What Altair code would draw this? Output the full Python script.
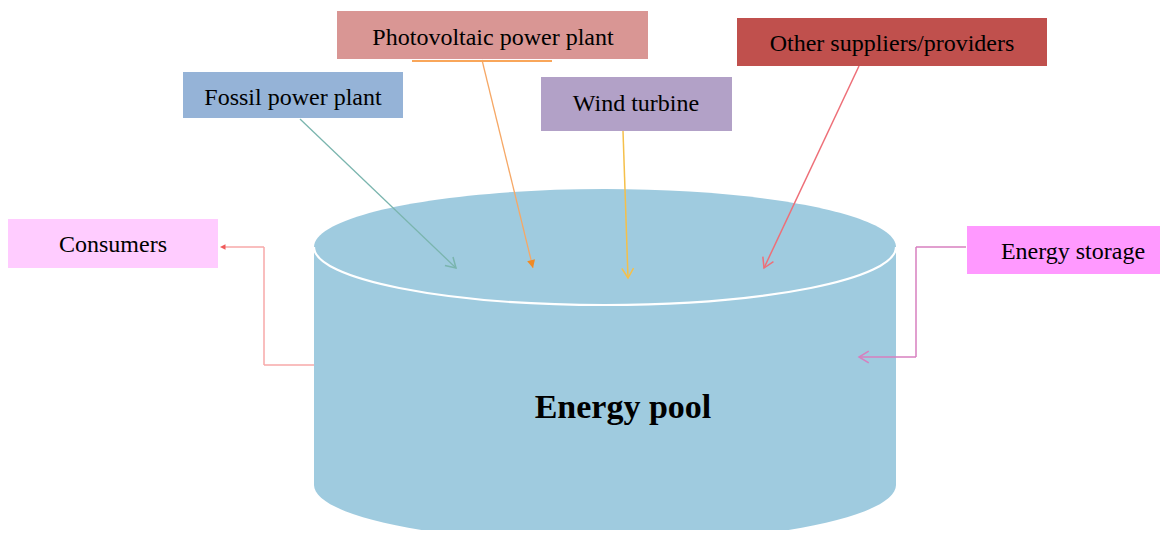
import math
import altair as alt
import pandas as pd

# ---- boxes (labels + geometry in reference pixel coordinates) ----
box_labels = ["Photovoltaic power plant", "Fossil power plant", "Wind turbine",
              "Other suppliers/providers", "Consumers", "Energy storage"]
box_x0 = [337, 183, 541, 737, 8, 967]
box_x1 = [648, 403, 732, 1047, 218, 1168]
box_y0 = [11, 72, 77, 18, 219, 226]
box_y1 = [59, 118, 131, 66, 268, 274]
box_fill = ["#d99694", "#95b3d7", "#b2a1c7", "#c0504d", "#ffccff", "#ff99ff"]
text_x = [493, 293, 636, 892, 113, 1073]
text_y = [38, 98, 104, 44, 245, 252]

# ---- connector segments ----
seg_x0 = [300, 482, 412, 623, 859, 314, 264, 264, 966, 916, 916]
seg_y0 = [119, 60, 61, 131, 66, 365, 365, 247, 247, 247, 357]
seg_x1 = [456, 533, 552, 628, 764, 264, 264, 222, 916, 916, 859]
seg_y1 = [268, 268, 61, 278, 268, 365, 247, 247, 247, 357, 357]
seg_color = ["#7ab5ae", "#f6a866", "#f9a65a", "#f5c04a", "#ee6f78",
             "#f7a8a8", "#f7a8a8", "#f7a8a8", "#d77fbf", "#d77fbf", "#d77fbf"]
seg_width = [1.3, 1.3, 2.0, 1.5, 1.5, 1.5, 1.5, 1.5, 1.5, 1.5, 1.5]

# ---- arrowheads (tip, direction from segment) ----
open_tip_x = [456, 628, 764, 859]
open_tip_y = [268, 278, 268, 357]
open_from_x = [300, 623, 859, 916]
open_from_y = [119, 131, 66, 357]
open_color = ["#7ab5ae", "#f5c04a", "#ee6f78", "#d77fbf"]

filled_tip_x = [533, 220]
filled_tip_y = [268, 247]
filled_from_x = [482, 264]
filled_from_y = [60, 247]
filled_color = ["#f08a24", "#f05a5a"]
filled_size = [260, 120]

# ---- cylinder ----
cyl_cx = [605]
cyl_top_y = [247]
cyl_bot_y = [485]
cyl_rx = [291]
cyl_ry = [58]
cyl_color = "#9fcbdf"
pool_label = ["Energy pool"]
pool_x = [623]
pool_y = [408]


def heading(fx, fy, tx, ty):
    return math.degrees(math.atan2(tx - fx, -(ty - fy))) % 360


boxes = pd.DataFrame({"label": box_labels, "x0": box_x0, "x1": box_x1,
                      "y0": box_y0, "y1": box_y1, "fill": box_fill,
                      "tx": text_x, "ty": text_y})
segs = pd.DataFrame({"x0": seg_x0, "y0": seg_y0, "x1": seg_x1, "y1": seg_y1,
                     "color": seg_color, "w": seg_width})
open_heads = pd.DataFrame({"x": open_tip_x, "y": open_tip_y, "color": open_color,
                           "angle": [heading(a, b, c, d) for a, b, c, d in
                                     zip(open_from_x, open_from_y, open_tip_x, open_tip_y)]})
filled_heads = pd.DataFrame({"x": filled_tip_x, "y": filled_tip_y, "color": filled_color,
                             "size": filled_size,
                             "angle": [heading(a, b, c, d) for a, b, c, d in
                                       zip(filled_from_x, filled_from_y, filled_tip_x, filled_tip_y)]})

ratio = cyl_ry[0] / cyl_rx[0]
ell_size = (2 * cyl_rx[0]) ** 2
full_ellipse = f"M-1,0 A1,{ratio:.4f} 0 1,0 1,0 A1,{ratio:.4f} 0 1,0 -1,0 Z"
front_arc = f"M-1,0 A1,{ratio:.4f} 0 0,0 1,0"

cyl_top = pd.DataFrame({"x": cyl_cx, "y": cyl_top_y})
cyl_bot = pd.DataFrame({"x": cyl_cx, "y": cyl_bot_y})
cyl_body = pd.DataFrame({"x0": [cyl_cx[0] - cyl_rx[0]], "x1": [cyl_cx[0] + cyl_rx[0]],
                         "y0": cyl_top_y, "y1": cyl_bot_y})
pool = pd.DataFrame({"label": pool_label, "x": pool_x, "y": pool_y})

xs = alt.Scale(domain=[8, 1160], nice=False, zero=False)
ys = alt.Scale(domain=[8, 530], nice=False, zero=False, reverse=True)


def X(f):
    return alt.X(f, type="quantitative", scale=xs, axis=None)


def Y(f):
    return alt.Y(f, type="quantitative", scale=ys, axis=None)


bottom = alt.Chart(cyl_bot).mark_point(shape=full_ellipse, filled=True, size=ell_size,
                                       color=cyl_color, opacity=1, strokeWidth=0).encode(
    x=X("x"), y=Y("y"))
body = alt.Chart(cyl_body).mark_rect(color=cyl_color).encode(
    x=X("x0"), x2="x1", y=Y("y0"), y2="y1")
top = alt.Chart(cyl_top).mark_point(shape=full_ellipse, filled=True, size=ell_size,
                                    color=cyl_color, opacity=1, strokeWidth=0).encode(
    x=X("x"), y=Y("y"))
rim = alt.Chart(cyl_top).mark_point(shape=front_arc, filled=False, size=ell_size,
                                    color="white", opacity=1, strokeWidth=2.2).encode(
    x=X("x"), y=Y("y"))
pool_text = alt.Chart(pool).mark_text(font="Liberation Serif", fontWeight="bold",
                                      fontSize=34, color="black", baseline="middle",
                                      align="center").encode(
    x=X("x"), y=Y("y"), text="label:N")

lines = alt.Chart(segs).mark_rule().encode(
    x=X("x0"), y=Y("y0"), x2="x1", y2="y1",
    color=alt.Color("color:N", scale=None),
    strokeWidth=alt.StrokeWidth("w:Q", scale=None))

heads_open = alt.Chart(open_heads).mark_point(shape="M-0.6,1 L0,0 L0.6,1", filled=False,
                                              size=380, opacity=1, strokeWidth=1.5).encode(
    x=X("x"), y=Y("y"), color=alt.Color("color:N", scale=None),
    angle=alt.Angle("angle:Q", scale=None))
heads_filled = alt.Chart(filled_heads).mark_point(shape="M-0.5,1 L0,0 L0.5,1 Z", filled=True,
                                                  opacity=1, strokeWidth=0).encode(
    x=X("x"), y=Y("y"), color=alt.Color("color:N", scale=None),
    size=alt.Size("size:Q", scale=None),
    angle=alt.Angle("angle:Q", scale=None))

rects = alt.Chart(boxes).mark_rect().encode(
    x=X("x0"), x2="x1", y=Y("y0"), y2="y1",
    color=alt.Color("fill:N", scale=None))
labels = alt.Chart(boxes).mark_text(font="Liberation Serif", fontSize=24, color="black",
                                    baseline="middle", align="center").encode(
    x=X("tx"), y=Y("ty"), text="label:N")

chart = alt.layer(bottom, body, top, rim, pool_text, lines, heads_open, heads_filled,
                  rects, labels).properties(
    width=1152, height=522, padding=0,
    autosize=alt.AutoSizeParams(type="none"),
    background="white",
).configure_view(stroke=None)

chart.save("out.html", embed_options={"renderer": "svg", "actions": False})
